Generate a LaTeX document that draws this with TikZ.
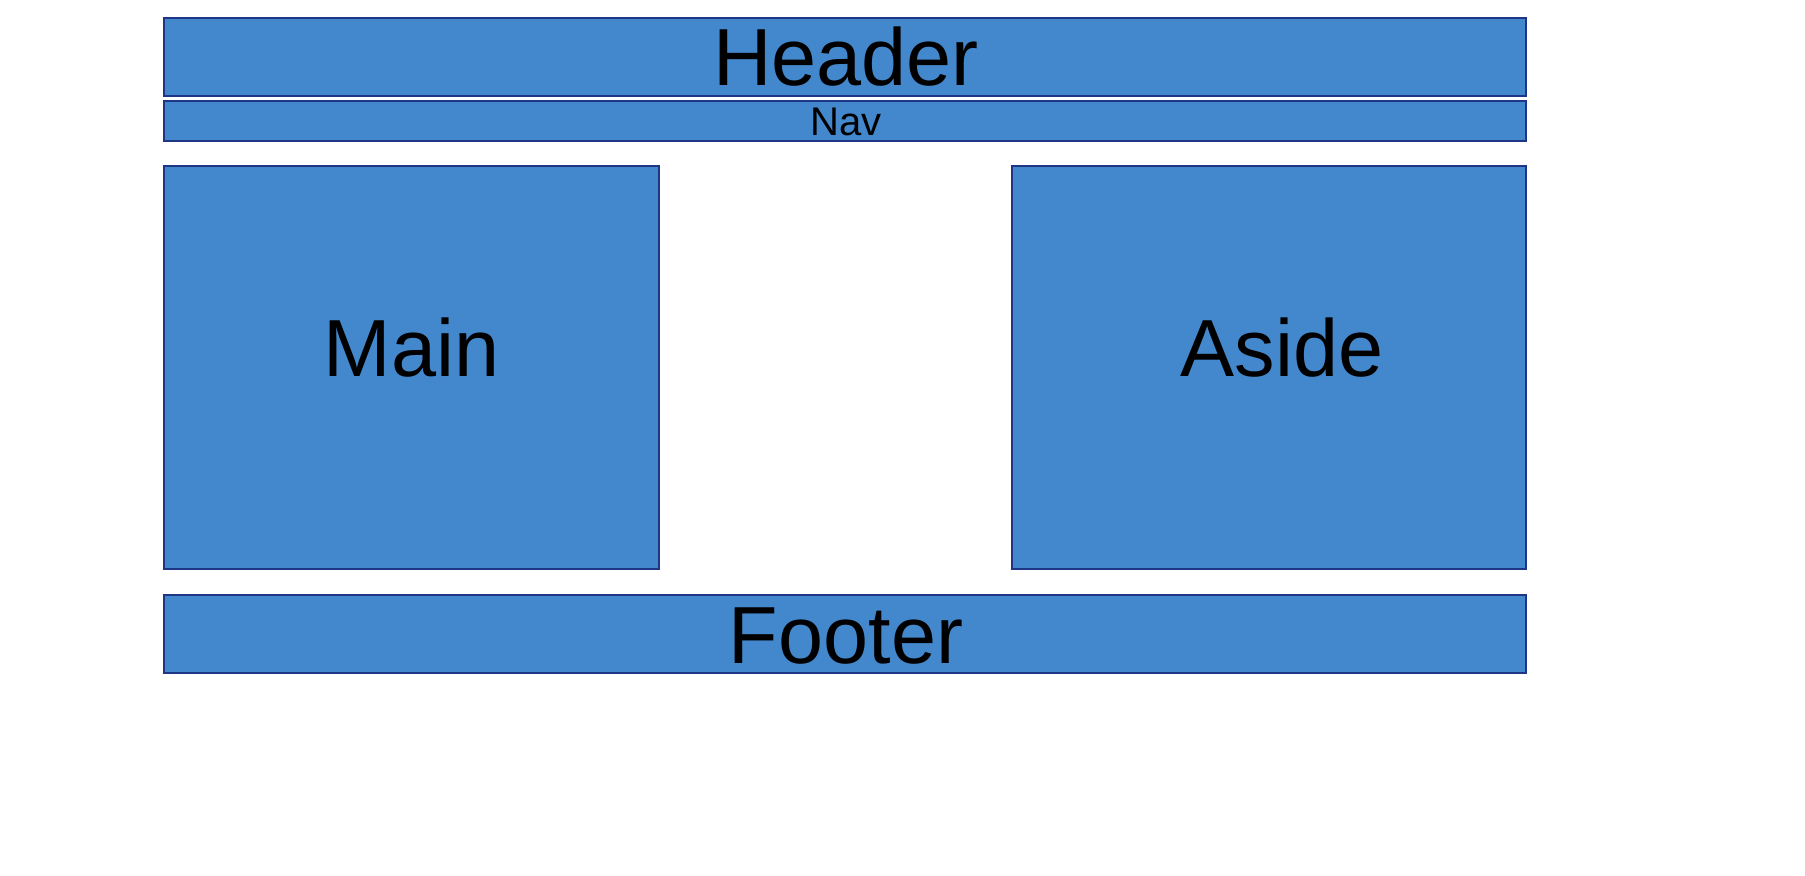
\documentclass[tikz,border=0pt]{standalone}
\usepackage{fontspec}
\setmainfont{Liberation Sans}
\usepackage{tikz}
\usetikzlibrary{positioning}
\definecolor{boxblue}{RGB}{67, 136, 204}
\definecolor{boxedge}{RGB}{31, 53, 133}

\begin{document}
\begin{tikzpicture}[x=0.5pt, y=-0.5pt,
    layoutbox/.style={fill=boxblue, draw=boxedge, line width=0.85pt},
    biglabel/.style={anchor=base, inner sep=0pt, font=\fontsize{40.5}{42}\selectfont},
    smalllabel/.style={anchor=base, inner sep=0pt, font=\fontsize{20}{22}\selectfont}]
\useasboundingbox (0,0) rectangle (1805,875);

% Header and Nav
\draw[layoutbox] (164,18) rectangle (1526,96);
\node[biglabel] (header) at (846,85) {Header};
\draw[layoutbox] (164,101) rectangle (1526,141);
\node[smalllabel] (nav) at (846,135) {Nav};

% Main and Aside
\draw[layoutbox] (164,166) rectangle (659,569);
\node[biglabel] (main) at (411.5,376) {Main};
\draw[layoutbox] (1012,166) rectangle (1526,569);
\node[biglabel] (aside) at (1282,376) {Aside};

% Footer
\draw[layoutbox] (164,595) rectangle (1526,673);
\node[biglabel] (footer) at (846,663) {Footer};
\end{tikzpicture}
\end{document}
